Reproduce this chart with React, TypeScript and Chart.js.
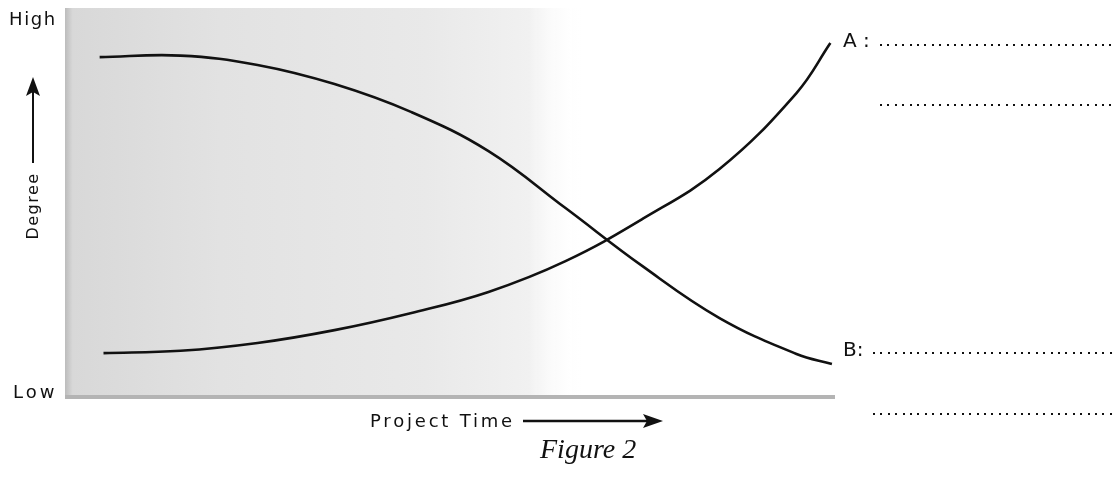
import React, { useEffect, useRef } from "react";
import { Chart, registerables } from "chart.js";

Chart.register(...registerables);

// Project time (0 = start, 100 = end) and degree (0 = Low, 100 = High)
const timeA = [5, 15, 25, 35, 45, 55, 65, 75, 85, 95, 99.4];
const degreeA = [11.5, 12.1, 14.1, 17.4, 21.8, 27.2, 35.1, 45.9, 58.7, 78.2, 91.0];
const timeB = [4.5, 15, 25, 35, 45, 55, 65, 75, 85, 95, 99.6];
const degreeB = [87.4, 87.8, 85.4, 80.5, 73.3, 63.3, 48.7, 33.8, 20.5, 11.3, 8.7];

const yTickLabels = ["Low", "High"];
const yAxisTitle = "Degree";
const xAxisTitle = "Project Time";
const seriesLabels = ["A :", "B:"];
const figureCaption = "Figure 2";
const shadedUntil = 67; // project time where the shaded zone fades out

const INK = "#111111";

function dots(ctx: CanvasRenderingContext2D, x0: number, x1: number, y: number) {
  ctx.save();
  ctx.fillStyle = "#111";
  for (let x = x0; x <= x1; x += 7.4) {
    ctx.fillRect(Math.round(x), Math.round(y) - 1, 2, 2);
  }
  ctx.restore();
}

const figurePlugin = {
  id: "figureDecor",
  beforeDatasetsDraw(chart: any) {
    const { ctx, chartArea, scales } = chart;
    const { left, right, top, bottom } = chartArea;
    const xEnd = scales.x.getPixelForValue(shadedUntil);
    ctx.save();
    const g = ctx.createLinearGradient(left, 0, xEnd, 0);
    g.addColorStop(0, "#bcbcbc");
    g.addColorStop(0.015, "#d8d8d8");
    g.addColorStop(0.3, "#e2e2e2");
    g.addColorStop(0.7, "#e9e9e9");
    g.addColorStop(0.9, "#f1f1f1");
    g.addColorStop(1, "rgba(255,255,255,0)");
    ctx.fillStyle = g;
    ctx.fillRect(left, top, xEnd - left, bottom - top);
    // bottom stippled base line
    ctx.fillStyle = "#b4b4b4";
    ctx.fillRect(left, bottom - 3, right - left, 4);
    ctx.restore();
  },
  afterDraw(chart: any) {
    const { ctx, chartArea, scales } = chart;
    const { right } = chartArea;
    ctx.save();
    ctx.fillStyle = INK;
    ctx.strokeStyle = INK;
    ctx.textBaseline = "alphabetic";
    ctx.textAlign = "left";

    // y tick labels
    ctx.font = '18px "DejaVu Sans"';
    (ctx as any).letterSpacing = "1.6px";
    ctx.fillText(yTickLabels[1], 9, scales.y.getPixelForValue(100) + 17);
    (ctx as any).letterSpacing = "3px";
    ctx.fillText(yTickLabels[0], 13, scales.y.getPixelForValue(0));

    // y axis title (rotated) with arrow
    ctx.save();
    ctx.translate(34, 206);
    ctx.rotate(-Math.PI / 2);
    ctx.font = '16px "DejaVu Sans"';
    (ctx as any).letterSpacing = "1.5px";
    ctx.textAlign = "center";
    ctx.textBaseline = "middle";
    ctx.fillText(yAxisTitle, 0, 0);
    ctx.restore();
    ctx.lineWidth = 2;
    ctx.beginPath();
    ctx.moveTo(33, 163);
    ctx.lineTo(33, 90);
    ctx.stroke();
    ctx.beginPath();
    ctx.moveTo(33, 77);
    ctx.lineTo(26, 96);
    ctx.lineTo(33, 92);
    ctx.lineTo(40, 96);
    ctx.closePath();
    ctx.fill();

    // x axis title with arrow
    ctx.font = '18px "DejaVu Sans"';
    (ctx as any).letterSpacing = "2.8px";
    ctx.fillText(xAxisTitle, 370, 427);
    ctx.lineWidth = 2.5;
    ctx.beginPath();
    ctx.moveTo(523, 421);
    ctx.lineTo(650, 421);
    ctx.stroke();
    ctx.beginPath();
    ctx.moveTo(663, 421);
    ctx.lineTo(643, 414);
    ctx.lineTo(647, 421);
    ctx.lineTo(643, 428);
    ctx.closePath();
    ctx.fill();

    // series labels with dotted answer lines
    ctx.font = '20px "DejaVu Sans"';
    (ctx as any).letterSpacing = "0px";
    const ds = chart.data.datasets;
    const endA = ds[0].data[ds[0].data.length - 1];
    const endB = ds[1].data[ds[1].data.length - 1];
    const yA = scales.y.getPixelForValue(endA.y) + 4;
    const yB = scales.y.getPixelForValue(endB.y) - 8;
    ctx.fillText(seriesLabels[0], right + 8, yA);
    ctx.fillText(seriesLabels[1], right + 8, yB);
    dots(ctx, 880, 1110, yA - 2);
    dots(ctx, 880, 1110, yA + 58);
    dots(ctx, 873, 1110, yB - 3);
    dots(ctx, 873, 1110, yB + 58);

    // caption
    ctx.font = 'italic 28px "Liberation Serif"';
    ctx.fillStyle = "#111";
    ctx.fillText(figureCaption, 540, 458);
    ctx.restore();
  },
};

export default function App() {
  const ref = useRef<HTMLCanvasElement | null>(null);
  useEffect(() => {
    if (!ref.current) return;
    const chart = new Chart(ref.current, {
      type: "line",
      data: {
        datasets: [
          {
            label: "A",
            data: timeA.map((t, i) => ({ x: t, y: degreeA[i] })),
            borderColor: INK,
            borderWidth: 2.6,
            pointRadius: 0,
            tension: 0.4,
            fill: false,
          },
          {
            label: "B",
            data: timeB.map((t, i) => ({ x: t, y: degreeB[i] })),
            borderColor: INK,
            borderWidth: 2.6,
            pointRadius: 0,
            tension: 0.4,
            fill: false,
          },
        ],
      },
      options: {
        responsive: false,
        animation: false,
        devicePixelRatio: 1,
        layout: { padding: { left: 65, right: 278, top: 8, bottom: 81 } },
        scales: {
          x: { type: "linear", min: 0, max: 100, display: false },
          y: { type: "linear", min: 0, max: 100, display: false },
        },
        plugins: { legend: { display: false }, tooltip: { enabled: false } },
      },
      plugins: [figurePlugin],
    });
    return () => chart.destroy();
  }, []);
  return (
    <div style={{ position: "fixed", left: 0, top: 0, width: 1113, height: 479, background: "#fff" }}>
      <canvas ref={ref} width={1113} height={479} style={{ display: "block" }} />
    </div>
  );
}
